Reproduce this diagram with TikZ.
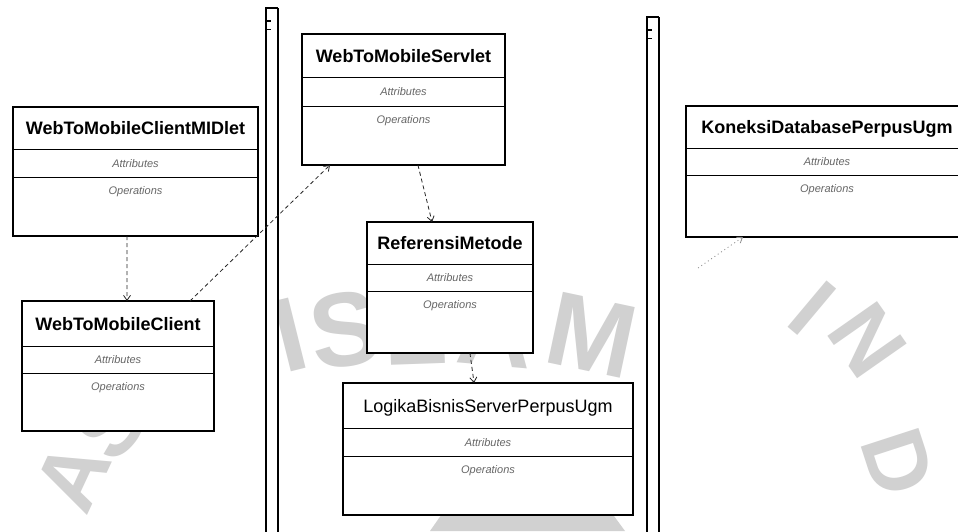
\documentclass[tikz,border=0pt]{standalone}
\usepackage{fontspec}
\setmainfont{Liberation Sans}
\usetikzlibrary{arrows.meta,calc}

\tikzset{
  classbox/.style={draw=black, line width=1.1pt, fill=white, inner sep=0pt, outer sep=0pt, anchor=north west},
  classname/.style={font=\bfseries\fontsize{18}{20}\selectfont, inner sep=0pt, anchor=base},
  classname light/.style={font=\fontsize{18}{20}\selectfont, inner sep=0pt, anchor=base},
  compartment/.style={font=\itshape\fontsize{11}{12}\selectfont, text=black!60, inner sep=0pt, anchor=base},
  divider/.style={draw=black, line width=0.9pt},
  dep/.style={draw=black!85, line width=0.8pt, dash pattern=on 4pt off 3pt,
    -{Straight Barb[length=5pt,width=7pt]}},
  faintdep/.style={dep, draw=black!45, dash pattern=on 1pt off 3pt},
  wmark/.style={text=black!18, font=\bfseries\fontsize{105}{105}\selectfont, inner sep=0pt},
  wmark small/.style={wmark, font=\bfseries\fontsize{88}{88}\selectfont},
  lanefill/.style={fill=white, draw=none},
}

% class box: name, left, top, right, first divider, second divider, bottom, title, title style
\newcommand{\umlclass}[9]{%
  \node[classbox, minimum width={#4-#2}, minimum height={#7-#3}] (#1) at (#2,#3) {};
  \draw[divider] (#2,#5) -- (#4,#5);
  \draw[divider] (#2,#6) -- (#4,#6);
  \node[#9] (#1-title) at ({(#2+#4)/2},{(#3+#5)/2+6.5}) {#8};
  \node[compartment] (#1-attr) at ({(#2+#4)/2},{(#5+#6)/2+4}) {Attributes};
  \node[compartment] (#1-ops) at ({(#2+#4)/2},{#6+17}) {Operations};
}

% swimlane separator: left edge, top
\newcommand{\lanebar}[2]{%
  \path[lanefill] (#1,#2) rectangle (#1+12,545);
  \draw[line width=1.8pt] (#1,545) -- (#1,#2) -- (#1+12,#2);
  \draw[line width=1.1pt] (#1+12,#2) -- (#1+12,545);
  \draw[line width=1.3pt] (#1+1,#2+13) -- (#1+5,#2+13);
  \draw[line width=1.3pt] (#1+1,#2+21.5) -- (#1+5,#2+21.5);
}

\begin{document}
\begin{tikzpicture}[x=1pt,y=-1pt]
\useasboundingbox (0,0) rectangle (958,531);
\clip (0,0) rectangle (958,531);
\fill[white] (0,0) rectangle (958,531);

% background seal lettering
\node[wmark, rotate=14]  (wm-i)  at (290,335) {I};
\node[wmark, rotate=8]   (wm-s)  at (345,330) {S};
\node[wmark, rotate=2]   (wm-l)  at (415,328) {L};
\node[wmark, rotate=-5]  (wm-a)  at (495,330) {A};
\node[wmark, rotate=-12] (wm-m)  at (592,335) {M};
\node[wmark small, rotate=50]  (wm-s2) at (110,425) {S};
\node[wmark small, rotate=65]  (wm-a2) at (72,476) {A};
\node[wmark small, rotate=-40] (wm-i2) at (812,308) {I};
\node[wmark small, rotate=-55] (wm-n)  at (868,340) {N};
\node[wmark small, rotate=-72] (wm-d)  at (898,462) {D};
\fill[black!18] (430,531) -- (525,395) -- (625,531) -- cycle;

% swimlane separators
\lanebar{266}{8}
\lanebar{647}{17}

% classes
\umlclass{midlet}{13}{107}{258}{149}{177}{236}{WebToMobileClientMIDlet}{classname}
\umlclass{client}{22}{301}{214}{346}{373}{431}{WebToMobileClient}{classname}
\umlclass{servlet}{302}{34}{505}{77}{106}{165}{WebToMobileServlet}{classname}
\umlclass{referensi}{367}{222}{533}{264}{291}{353}{ReferensiMetode}{classname}
\umlclass{logika}{343}{383}{633}{428}{456}{515}{LogikaBisnisServerPerpusUgm}{classname light}
\umlclass{koneksi}{686}{106}{968}{148}{175}{237}{KoneksiDatabasePerpusUgm}{classname}

% dependencies
\draw[dep] ($(midlet.south west)!0.465!(midlet.south east)$) -- ($(client.north west)!0.547!(client.north east)$);
\draw[dep] ($(client.north west)!0.875!(client.north east)$) -- ($(servlet.south west)!0.138!(servlet.south east)$);
\draw[dep] ($(servlet.south west)!0.571!(servlet.south east)$) -- ($(referensi.north west)!0.392!(referensi.north east)$);
\draw[dep] ($(referensi.south west)!0.62!(referensi.south east)$) -- ($(logika.north west)!0.452!(logika.north east)$);
\coordinate (kfrom) at (698,268);
\draw[faintdep] (kfrom) -- ($(koneksi.south west)!0.202!(koneksi.south east)$);
\end{tikzpicture}
\end{document}
